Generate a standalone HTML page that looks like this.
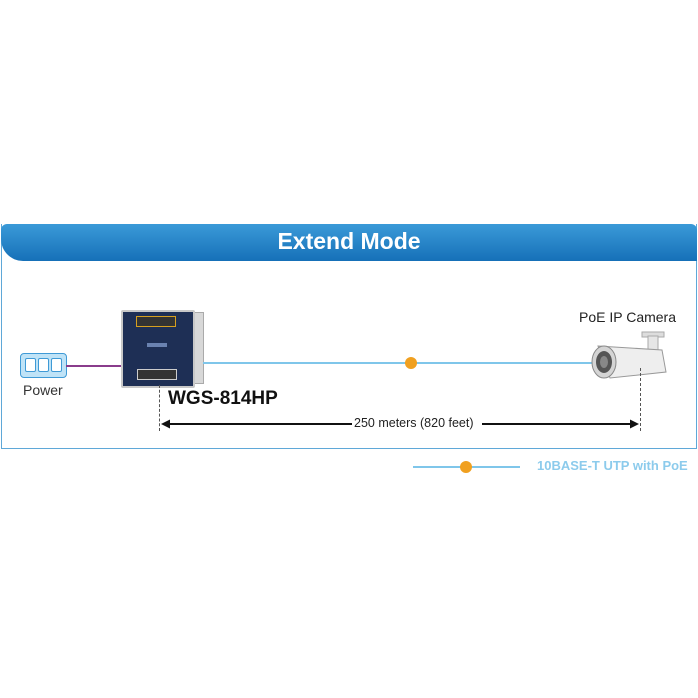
<!DOCTYPE html>
<html><head><meta charset="utf-8"><style>
body{margin:0;width:698px;height:698px;background:#fff;position:relative;font-family:"Liberation Sans",sans-serif;overflow:hidden}
.a{position:absolute}
</style></head><body>
<div class="a" style="left:1px;top:224px;width:694px;height:224px;border:1.5px solid #5fa8d8;border-top:none"></div>
<div class="a" style="left:1px;top:224px;width:696px;height:37px;background:linear-gradient(#3a9ad8,#1670b8);border-radius:6px 6px 0 22px"></div>
<div class="a" style="left:0;top:228px;width:698px;text-align:center;color:#fff;font-weight:bold;font-size:23px">Extend Mode</div>

<!-- power -->
<div class="a" style="left:20px;top:353px;width:45px;height:23px;background:#bfe3f7;border:1px solid #3f9ad6;border-radius:4px"></div>
<div class="a" style="left:25px;top:358px;width:9px;height:12px;border:1px solid #3f9ad6;border-radius:2px;background:#fff"></div>
<div class="a" style="left:38px;top:358px;width:9px;height:12px;border:1px solid #3f9ad6;border-radius:2px;background:#fff"></div>
<div class="a" style="left:51px;top:358px;width:9px;height:12px;border:1px solid #3f9ad6;border-radius:2px;background:#fff"></div>
<div class="a" style="left:23px;top:382px;font-size:14px;color:#333">Power</div>
<div class="a" style="left:66px;top:365px;width:56px;height:2px;background:#8a3c8c"></div>

<!-- switch -->
<div class="a" style="left:188px;top:312px;width:14px;height:70px;background:#d8d8d8;border:1px solid #aaa"></div>
<div class="a" style="left:121px;top:310px;width:70px;height:74px;background:#1e2f55;border:2px solid #c8c8c8;border-radius:2px"></div>
<div class="a" style="left:136px;top:316px;width:38px;height:9px;background:#333;border:1px solid #d6a020"></div>
<div class="a" style="left:137px;top:369px;width:38px;height:9px;background:#333;border:1px solid #ccc"></div>
<div class="a" style="left:147px;top:343px;width:20px;height:4px;background:#6a82b0"></div>

<div class="a" style="left:203px;top:362px;width:392px;height:2px;background:#7fc6ea"></div>
<div class="a" style="left:405px;top:357px;width:12px;height:12px;border-radius:50%;background:#f0a020"></div>

<!-- camera -->
<svg class="a" style="left:580px;top:328px" width="92" height="56">
<rect x="62" y="4" width="22" height="5" fill="#ddd" stroke="#aaa"/>
<rect x="68" y="8" width="10" height="18" fill="#e6e6e6" stroke="#aaa"/>
<path d="M18 18 L82 22 L86 44 L30 50 Z" fill="#eeeeee" stroke="#999"/>
<ellipse cx="24" cy="34" rx="12" ry="16" fill="#d4d4d4" stroke="#888"/>
<ellipse cx="24" cy="34" rx="8" ry="11" fill="#555"/>
<ellipse cx="24" cy="34" rx="4" ry="6" fill="#888"/>
</svg>
<div class="a" style="left:579px;top:309px;font-size:14px;color:#222">PoE IP Camera</div>

<div class="a" style="left:168px;top:388px;font-size:19px;font-weight:bold;color:#111">WGS-814HP</div>
<div class="a" style="left:159px;top:385px;height:46px;border-left:1px dashed #555"></div>
<div class="a" style="left:640px;top:368px;height:63px;border-left:1px dashed #555"></div>
<div class="a" style="left:164px;top:423px;width:188px;height:1.5px;background:#111"></div>
<div class="a" style="left:482px;top:423px;width:152px;height:1.5px;background:#111"></div>
<svg class="a" style="left:160px;top:418px" width="484" height="12">
<path d="M1 6 L10 1.5 L10 10.5Z" fill="#111"/><path d="M479 6 L470 1.5 L470 10.5Z" fill="#111"/></svg>
<div class="a" style="left:354px;top:416px;font-size:12.5px;color:#222">250 meters (820 feet)</div>

<div class="a" style="left:413px;top:466px;width:107px;height:2px;background:#7fc6ea"></div>
<div class="a" style="left:460px;top:461px;width:12px;height:12px;border-radius:50%;background:#f0a020"></div>
<div class="a" style="left:537px;top:458px;font-size:13px;font-weight:bold;color:#8ccbec">10BASE-T UTP with PoE</div>
</body></html>
